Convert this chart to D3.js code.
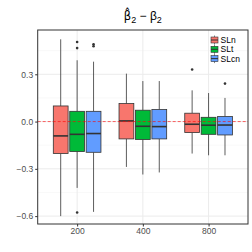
<!DOCTYPE html>
<html>
<head>
<meta charset="utf-8">
<script src="https://cdn.jsdelivr.net/npm/d3@7"></script>
<style>
	body { margin: 0; background: #fff; }
	text { font-family: "Liberation Sans", Arial, sans-serif; }
</style>
</head>
<body>
<main></main>
<script>
const categories = ["200", "400", "800"];
const series = ["SLn", "SLt", "SLcn"];
const colors = ["#F8766D", "#00BA38", "#619CFF"];
const yTicks = [-0.6, -0.3, 0.0, 0.3];

// [lower whisker, q1, median, q3, upper whisker] per category
const slnStats = [[-0.600, -0.203, -0.091, 0.099, 0.522], [-0.288, -0.110, 0.004, 0.114, 0.304], [-0.203, -0.070, -0.017, 0.053, 0.198]];
const sltStats = [[-0.421, -0.190, -0.081, 0.065, 0.389], [-0.336, -0.114, -0.030, 0.072, 0.257], [-0.214, -0.081, -0.023, 0.027, 0.181]];
const slcnStats = [[-0.573, -0.195, -0.076, 0.065, 0.380], [-0.323, -0.110, -0.032, 0.076, 0.257], [-0.214, -0.085, -0.022, 0.032, 0.150]];
const slnOut = [[], [], [0.330]];
const sltOut = [[0.505, 0.466, -0.577], [], []];
const slcnOut = [[0.490, 0.478], [], [0.241]];

const statsBySeries = [slnStats, sltStats, slcnStats];
const outBySeries = [slnOut, sltOut, slcnOut];

const W = 252, H = 252;
const pLeft = 37.7, pRight = 248, pTop = 30, pBottom = 224;

const svg = d3.select("main").append("svg")
	.attr("width", W)
	.attr("height", H);

const x = d3.scalePoint().domain(categories).range([pLeft, pRight]).padding(0.6);
const step = x.step();
const dodge = d3.scaleBand().domain(series).range([-step * 0.375, step * 0.375]);
const boxW = dodge.bandwidth() * 0.9;

const y = d3.scaleLinear().domain([-0.65, 0.581]).range([pBottom, pTop]);

// grid
const grid = svg.append('g');
const minor = d3.range(-0.45, 0.6, 0.3);
grid.selectAll('.minor').data(minor).enter().append('line')
	.attr('x1', pLeft).attr('x2', pRight)
	.attr('y1', d => y(d)).attr('y2', d => y(d))
	.attr('stroke', '#f2f2f2').attr('stroke-width', 0.5);
grid.selectAll('.major').data(yTicks).enter().append('line')
	.attr('x1', pLeft).attr('x2', pRight)
	.attr('y1', d => y(d)).attr('y2', d => y(d))
	.attr('stroke', '#ebebeb').attr('stroke-width', 1);
grid.selectAll('.vmajor').data(categories).enter().append('line')
	.attr('x1', d => x(d)).attr('x2', d => x(d))
	.attr('y1', pTop).attr('y2', pBottom)
	.attr('stroke', '#ebebeb').attr('stroke-width', 1);

// boxes
series.forEach((s, si) => {
	const g = svg.append('g');
	categories.forEach((c, ci) => {
		const st = statsBySeries[si][ci];
		const cx = x(c) + dodge(s) + dodge.bandwidth() / 2;
		g.append('line')
			.attr('x1', cx).attr('x2', cx)
			.attr('y1', y(st[4])).attr('y2', y(st[3]))
			.attr('stroke', '#333').attr('stroke-width', 0.8);
		g.append('line')
			.attr('x1', cx).attr('x2', cx)
			.attr('y1', y(st[1])).attr('y2', y(st[0]))
			.attr('stroke', '#333').attr('stroke-width', 0.8);
		g.append('rect')
			.attr('x', cx - boxW / 2)
			.attr('y', y(st[3]))
			.attr('width', boxW)
			.attr('height', y(st[1]) - y(st[3]))
			.attr('fill', colors[si])
			.attr('stroke', '#333').attr('stroke-width', 0.8);
		g.append('line')
			.attr('x1', cx - boxW / 2).attr('x2', cx + boxW / 2)
			.attr('y1', y(st[2])).attr('y2', y(st[2]))
			.attr('stroke', '#333').attr('stroke-width', 1.6);
		g.selectAll(null).data(outBySeries[si][ci]).enter().append('circle')
			.attr('cx', cx).attr('cy', d => y(d)).attr('r', 1.3)
			.attr('fill', '#333');
	});
});

// zero line
svg.append('line')
	.attr('x1', pLeft).attr('x2', pRight)
	.attr('y1', y(0)).attr('y2', y(0))
	.attr('stroke', 'red').attr('stroke-opacity', 0.6)
	.attr('stroke-width', 1).attr('stroke-dasharray', '3,2');

// panel border
svg.append('rect')
	.attr('x', pLeft).attr('y', pTop)
	.attr('width', pRight - pLeft).attr('height', pBottom - pTop)
	.attr('fill', 'none').attr('stroke', '#333').attr('stroke-width', 1);

// axes
const yAxis = svg.append('g')
	.attr('transform', `translate(${pLeft}, 0)`)
	.call(d3.axisLeft(y).tickValues(yTicks).tickFormat(d3.format('.1f')).tickSize(2.5).tickPadding(2));
yAxis.select('.domain').remove();
yAxis.selectAll('text').attr('fill', '#4d4d4d').style('font-size', '8.5px')
	.text(d => d3.format('.1f')(d).replace('-', '\u2212'));
yAxis.selectAll('line').attr('stroke', '#333');

const xAxis = svg.append('g')
	.attr('transform', `translate(0, ${pBottom})`)
	.call(d3.axisBottom(x).tickSize(2.5).tickPadding(1.5));
xAxis.select('.domain').remove();
xAxis.selectAll('text').attr('fill', '#4d4d4d').style('font-size', '8.5px');
xAxis.selectAll('line').attr('stroke', '#333');

// legend
const leg = svg.append('g').attr('transform', 'translate(211, 40)');
series.forEach((s, i) => {
	const row = leg.append('g').attr('transform', `translate(0, ${i * 9.3})`);
	row.append('line').attr('x1', 3.5).attr('x2', 3.5).attr('y1', -4.5).attr('y2', 4.5)
		.attr('stroke', '#333').attr('stroke-width', 0.6);
	row.append('rect').attr('x', 0).attr('y', -3).attr('width', 7).attr('height', 6)
		.attr('fill', colors[i]).attr('stroke', '#333').attr('stroke-width', 0.6);
	row.append('line').attr('x1', 0).attr('x2', 7).attr('y1', 0).attr('y2', 0)
		.attr('stroke', '#333').attr('stroke-width', 1);
	row.append('text').attr('x', 9.5).attr('y', 3)
		.style('font-size', '8.5px').attr('fill', '#000').text(s);
});

// title: beta-hat_2 - beta_2 (combining circumflex for the hat)
const tt = svg.append('text')
	.attr('x', (pLeft + pRight) / 2)
	.attr('y', 20)
	.attr('text-anchor', 'middle')
	.style('font-size', '12px');
tt.append('tspan').style('font-family', '"DejaVu Sans"').style('font-size', '11.5px').text('\u03b2\u0302');
tt.append('tspan').attr('dy', 3).style('font-size', '9px').text('2');
tt.append('tspan').attr('dy', -3).text(' \u2212 \u03b2');
tt.append('tspan').attr('dy', 3).style('font-size', '9px').text('2');
</script>
</body>
</html>
